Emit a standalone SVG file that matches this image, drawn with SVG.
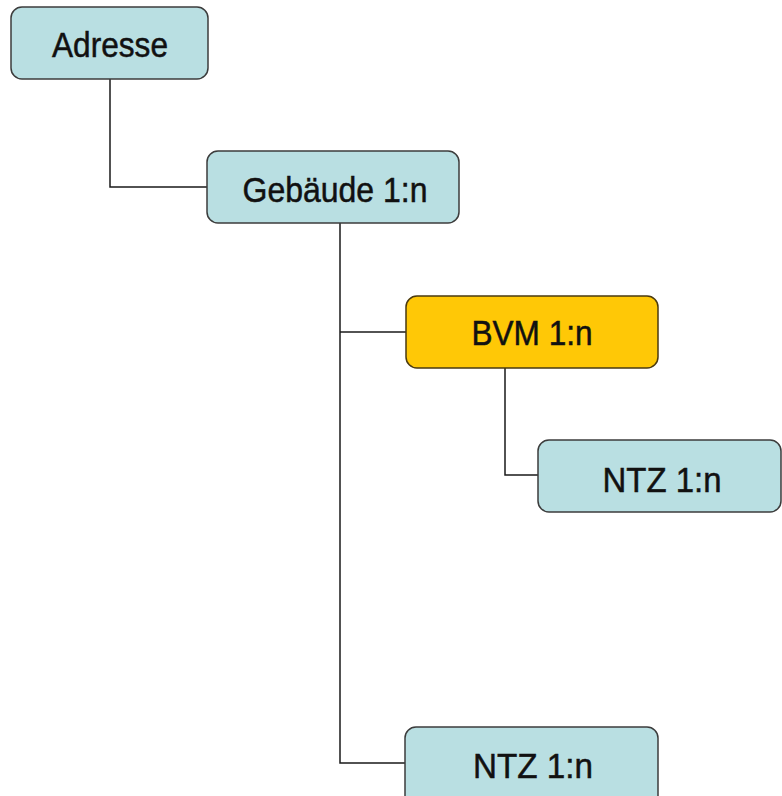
<svg xmlns="http://www.w3.org/2000/svg" width="782" height="796" viewBox="0 0 782 796">
<style>
.box{fill:#b9dfe2;stroke:#3c3c3c;stroke-width:1.5}
.hl{fill:#ffc806;stroke:#4a3a10;stroke-width:1.5}
.lbl{font-family:"Liberation Sans",Arial,sans-serif;font-size:35px;fill:#111;stroke:#111;stroke-width:0.5;text-anchor:middle}
.con{fill:none;stroke:#1a1a1a;stroke-width:1.5}
</style>
<rect width="782" height="796" fill="#ffffff"/>
<g id="connectors">
<path class="con" d="M110 79 V187 H207"/>
<path class="con" d="M340 223 V763 H405"/>
<path class="con" d="M340 332 H406"/>
<path class="con" d="M505 368 V475 H538"/>
</g>
<g id="adresse">
<rect class="box" x="11" y="7" width="197" height="72" rx="11"/>
<text class="lbl" x="110" y="57" textLength="116" lengthAdjust="spacingAndGlyphs">Adresse</text>
</g>
<g id="gebaeude">
<rect class="box" x="207" y="151" width="252" height="72" rx="11"/>
<text class="lbl" x="335" y="202" textLength="185" lengthAdjust="spacingAndGlyphs">Gebäude 1:n</text>
</g>
<g id="bvm">
<rect class="hl" x="406" y="296" width="252" height="72" rx="11"/>
<text class="lbl" x="532" y="345" textLength="121" lengthAdjust="spacingAndGlyphs">BVM 1:n</text>
</g>
<g id="ntz1">
<rect class="box" x="538" y="440" width="243" height="72" rx="11"/>
<text class="lbl" x="662" y="492" textLength="119" lengthAdjust="spacingAndGlyphs">NTZ 1:n</text>
</g>
<g id="ntz2">
<rect class="box" x="405" y="727" width="253" height="80" rx="11"/>
<text class="lbl" x="533" y="778" textLength="120" lengthAdjust="spacingAndGlyphs">NTZ 1:n</text>
</g>
</svg>
